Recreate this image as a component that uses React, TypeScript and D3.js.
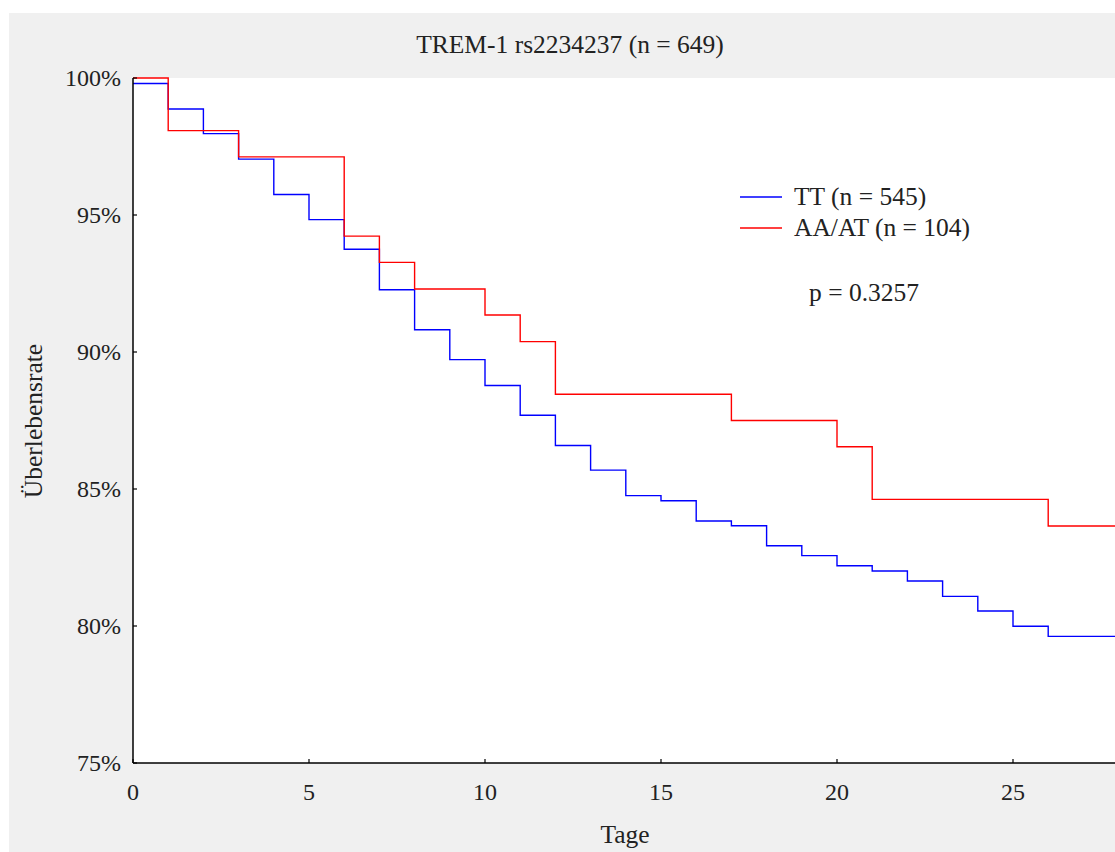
import React from "react";
import * as d3 from "d3";

const title = "TREM-1 rs2234237 (n = 649)";
const xLabel = "Tage";
const yLabel = "Überlebensrate";
const xTicks = [0, 5, 10, 15, 20, 25];
const yTicks = [75, 80, 85, 90, 95, 100];

// Step values: survival at day index i applies on [i, i+1)
const ttDays = [0, 1, 2, 3, 4, 5, 6, 7, 8, 9, 10, 11, 12, 13, 14, 15, 16, 17, 18, 19, 20, 21, 22, 23, 24, 25, 26, 28];
const ttValues = [99.8, 98.87, 97.97, 97.04, 95.75, 94.83, 93.75, 92.27, 90.81, 89.72, 88.78, 87.69, 86.59, 85.69, 84.76, 84.57, 83.83, 83.66, 82.93, 82.57, 82.2, 82.01, 81.64, 81.08, 80.55, 79.99, 79.62, 79.62];

const atDays = [0, 1, 3, 6, 7, 8, 10, 11, 12, 17, 20, 21, 26, 28];
const atValues = [100, 98.08, 97.12, 94.23, 93.27, 92.3, 91.35, 90.38, 88.46, 87.5, 86.54, 84.62, 83.65, 83.65];

const legendItems = [
  { label: "TT (n = 545)", color: "#0000ff" },
  { label: "AA/AT (n = 104)", color: "#ff0000" },
];
const pText = "p = 0.3257";

export default function App() {
  const W = 1115;
  const H = 852;
  const left = 133;
  const top = 78;
  const bottom = 763;
  const x = d3.scaleLinear().domain([0, 28]).range([left, left + 28 * 35.2]);
  const y = d3.scaleLinear().domain([75, 100]).range([bottom, top]);
  const line = d3
    .line<[number, number]>()
    .x((d) => x(d[0]))
    .y((d) => y(d[1]))
    .curve(d3.curveStepAfter);
  const tt: [number, number][] = ttDays.map((d, i) => [d, ttValues[i]]);
  const at: [number, number][] = atDays.map((d, i) => [d, atValues[i]]);
  const font = "'Liberation Serif', 'Times New Roman', serif";
  const fs = 24;
  const fsText = 25.5;
  return (
    <svg
      width={W}
      height={H}
      style={{ position: "absolute", left: 0, top: 0 }}
      fontFamily={font}
    >
      <rect x={9} y={13} width={W - 9} height={H - 13} fill="#f0f0f0" />
      <rect x={left} y={top} width={W - left} height={bottom - top} fill="#ffffff" />
      <text x={570} y={53} textAnchor="middle" fontSize={fsText} fill="#222">
        {title}
      </text>
      <path d={line(tt) || ""} fill="none" stroke="#0000ff" strokeWidth={1.4} />
      <path d={line(at) || ""} fill="none" stroke="#ff0000" strokeWidth={1.4} />
      <line x1={left} x2={W} y1={bottom} y2={bottom} stroke="#000" strokeWidth={1.5} />
      <line x1={left} x2={left} y1={top} y2={bottom} stroke="#000" strokeWidth={1.5} />
      {xTicks.map((t) => (
        <g key={"x" + t}>
          <line x1={x(t)} x2={x(t)} y1={bottom} y2={bottom - 4} stroke="#000" strokeWidth={1.2} />
          <text x={x(t)} y={800} textAnchor="middle" fontSize={fs} fill="#222">
            {t}
          </text>
        </g>
      ))}
      {yTicks.map((t) => (
        <g key={"y" + t}>
          <line x1={left} x2={left + 4} y1={y(t)} y2={y(t)} stroke="#000" strokeWidth={1.2} />
          <text x={121} y={y(t) + 8} textAnchor="end" fontSize={fs} fill="#222">
            {t}%
          </text>
        </g>
      ))}
      <text x={625} y={843} textAnchor="middle" fontSize={fsText} fill="#222">
        {xLabel}
      </text>
      <text
        transform={`translate(42,${421}) rotate(-90)`}
        textAnchor="middle"
        fontSize={fsText}
        fill="#222"
      >
        {yLabel}
      </text>
      {legendItems.map((it, i) => (
        <g key={it.label}>
          <line x1={740} x2={782} y1={197 + i * 31} y2={197 + i * 31} stroke={it.color} strokeWidth={1.4} />
          <text x={794} y={205 + i * 31} fontSize={fsText} fill="#222">
            {it.label}
          </text>
        </g>
      ))}
      <text x={809} y={301} fontSize={fsText} fill="#222">
        {pText}
      </text>
    </svg>
  );
}
